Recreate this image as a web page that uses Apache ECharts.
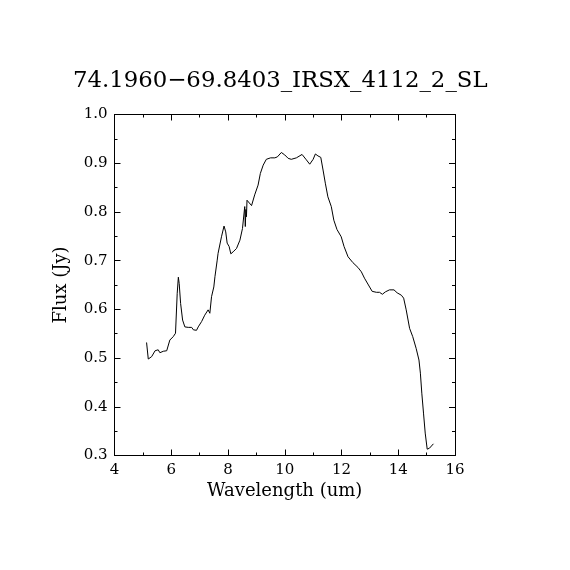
<!DOCTYPE html>
<html>
<head>
<meta charset="utf-8">
<script src="https://cdn.jsdelivr.net/npm/echarts@6/dist/echarts.min.js"></script>
<style>html,body{margin:0;padding:0;background:#fff;}#c{width:570px;height:570px;}</style>
</head>
<body>
<div id="c"></div>
<script>
var titleText = '74.1960\u221269.8403_IRSX_4112_2_SL';
var xName = 'Wavelength (um)';
var yName = 'Flux (Jy)';
var wavelength = [5.13,5.19,5.31,5.43,5.54,5.60,5.72,5.84,5.95,6.07,6.15,6.21,6.25,6.28,6.33,6.40,6.48,6.54,6.60,6.66,6.72,6.78,6.83,6.89,6.95,7.07,7.18,7.30,7.36,7.42,7.50,7.54,7.62,7.65,7.77,7.86,7.92,7.97,8.04,8.10,8.18,8.30,8.42,8.51,8.56,8.59,8.61,8.63,8.65,8.67,8.74,8.83,8.94,9.06,9.14,9.24,9.35,9.50,9.65,9.74,9.88,10.00,10.12,10.23,10.41,10.61,10.76,10.88,11.00,11.08,11.17,11.27,11.35,11.43,11.52,11.64,11.73,11.84,11.99,12.09,12.23,12.40,12.58,12.70,12.81,12.93,13.08,13.23,13.34,13.44,13.55,13.69,13.85,13.96,14.11,14.19,14.28,14.40,14.51,14.63,14.73,14.78,14.83,14.89,14.95,15.02,15.10,15.16,15.24];
var flux = [0.532,0.498,0.503,0.515,0.517,0.511,0.514,0.515,0.537,0.544,0.551,0.633,0.666,0.653,0.612,0.578,0.564,0.561,0.563,0.559,0.563,0.558,0.561,0.557,0.564,0.575,0.588,0.599,0.592,0.626,0.646,0.667,0.701,0.715,0.749,0.771,0.759,0.736,0.729,0.714,0.718,0.725,0.742,0.766,0.763,0.811,0.770,0.805,0.790,0.824,0.824,0.813,0.835,0.855,0.879,0.896,0.908,0.911,0.911,0.913,0.922,0.917,0.910,0.908,0.911,0.918,0.907,0.898,0.908,0.919,0.915,0.912,0.886,0.859,0.831,0.811,0.783,0.764,0.749,0.729,0.708,0.696,0.686,0.677,0.664,0.652,0.637,0.635,0.635,0.631,0.636,0.640,0.640,0.634,0.629,0.623,0.599,0.561,0.544,0.520,0.496,0.469,0.428,0.387,0.346,0.313,0.315,0.318,0.324];

var pts = wavelength.map(function(w,i){return [w, flux[i]];});
var font = 'DejaVu Serif';
var chart = echarts.init(document.getElementById('c'), null, {renderer:'canvas'});
function xa(show, pos){
  return {type:'value', min:4, max:16, interval:2, position:pos,
    name: show? xName:'', nameLocation:'middle', nameGap:27,
    nameTextStyle:{fontFamily:font, fontSize:18, color:'#000'},
    axisLine:{show:true, onZero:false, lineStyle:{color:'#000', width:1}},
    axisTick:{show:true, inside:true, length:6, lineStyle:{color:'#000'}},
    minorTick:{show:true, splitNumber:2, length:3, lineStyle:{color:'#000'}},
    axisLabel:{show:show, margin:7, fontFamily:font, fontSize:15, color:'#000'},
    splitLine:{show:false}};
}
function ya(show, pos){
  return {type:'value', min:0.3, max:1.0, interval:0.1, position:pos,
    name: show? yName:'', nameLocation:'middle', nameGap:44,
    nameTextStyle:{fontFamily:font, fontSize:18, color:'#000'},
    axisLine:{show:true, onZero:false, lineStyle:{color:'#000', width:1}},
    axisTick:{show:true, inside:true, length:6, lineStyle:{color:'#000'}},
    minorTick:{show:true, splitNumber:2, length:3, lineStyle:{color:'#000'}},
    axisLabel:{show:show, margin:7, fontFamily:font, fontSize:15, color:'#000',
      formatter:function(v){return v.toFixed(1);}},
    splitLine:{show:false}};
}
chart.setOption({
  animation:false,
  backgroundColor:'#fff',
  title:{text:titleText, left:73, top:70, padding:0,
    textStyle:{fontFamily:font, fontSize:22.8, fontWeight:'normal', color:'#000'}},
  grid:{left:114.5, right:115, top:114.5, bottom:114.5, containLabel:false},
  xAxis:[xa(true,'bottom'), xa(false,'top')],
  yAxis:[ya(true,'left'), ya(false,'right')],
  series:[{type:'line', data:pts, xAxisIndex:0, yAxisIndex:0, showSymbol:false, symbol:'none',
    lineStyle:{color:'#000', width:1}, itemStyle:{color:'#000'}}]
});
</script>
</body>
</html>
